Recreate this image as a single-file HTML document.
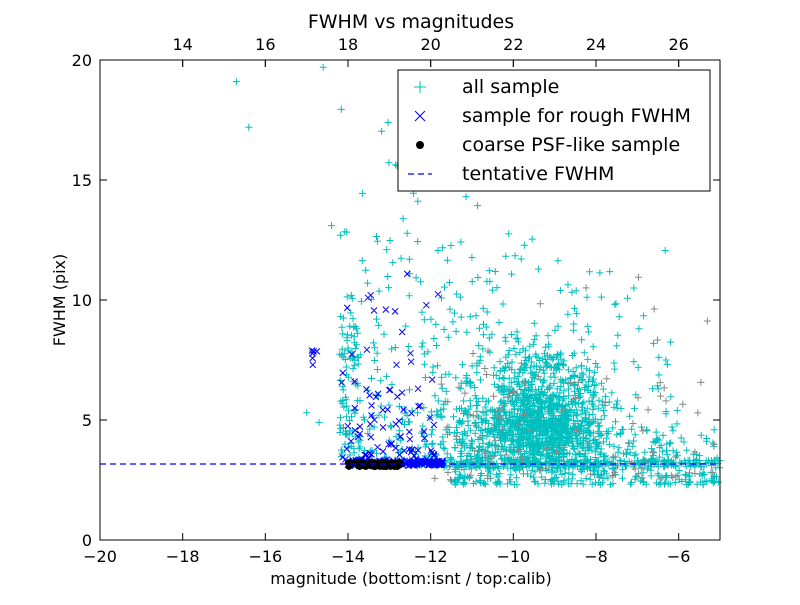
<!DOCTYPE html>
<html><head><meta charset="utf-8"><style>
body{margin:0;background:#fff;}
svg text{font-family:"DejaVu Sans","Liberation Sans",sans-serif;}
</style></head><body>
<svg id="s" width="800" height="600" xmlns="http://www.w3.org/2000/svg">
<rect width="800" height="600" fill="#fff"/>
<g id="pts"></g>
<line x1="100" y1="464" x2="720" y2="464" stroke="#0000ff" stroke-width="1.2" stroke-dasharray="6,4"/>
<rect x="100" y="60" width="620" height="480" fill="none" stroke="#000" stroke-width="1"/>
<g id="ticks" stroke="#000"></g>
<g font-size="16" fill="#000" id="lbl"></g>
<text x="411" y="28" font-size="19" text-anchor="middle">FWHM vs magnitudes</text>
<text x="411" y="584" font-size="16" text-anchor="middle">magnitude (bottom:isnt / top:calib)</text>
<text x="65" y="300" font-size="16" text-anchor="middle" transform="rotate(-90 65 300)">FWHM (pix)</text>
<rect x="398" y="70" width="312" height="121" fill="#fff" stroke="#000"/>
<path d="M414 87h12M420 81v12" stroke="#00bfbf" stroke-width="1"/>
<path d="M415 111l10 10M425 111l-10 10" stroke="#0000ff" stroke-width="1"/>
<circle cx="420" cy="145" r="4" fill="#000"/>
<line x1="408" y1="174" x2="432" y2="174" stroke="#0000ff" stroke-width="1.2" stroke-dasharray="6,4"/>
<g font-size="19"><text x="462" y="93">all sample</text><text x="462" y="122">sample for rough FWHM</text><text x="462" y="151">coarse PSF-like sample</text><text x="462" y="180">tentative FWHM</text></g>
</svg>
<script>
var X=function(m){return 100+(m+20)*620/15},Y=function(f){return 540-f*24};
var s=12345;function r(){s=(s*1103515245+12345)%2147483648;return s/2147483648;}
function g(){return (r()+r()+r()-1.5)/0.87;}
var t="",tl="";
for(var m=-20;m<=-6;m+=2){var x=X(m);t+='<line x1="'+x+'" y1="540" x2="'+x+'" y2="533"/><line x1="'+x+'" y1="60" x2="'+x+'" y2="67"/>';tl+='<text x="'+x+'" y="562" text-anchor="middle">\u2212'+(-m)+'</text>';}
for(var m=14;m<=26;m+=2){var x=X(m-32);t+='<line x1="'+x+'" y1="60" x2="'+x+'" y2="67"/>';tl+='<text x="'+x+'" y="50" text-anchor="middle">'+m+'</text>';}
for(var f=0;f<=20;f+=5){var y=Y(f);t+='<line x1="100" y1="'+y+'" x2="107" y2="'+y+'"/><line x1="720" y1="'+y+'" x2="713" y2="'+y+'"/>';tl+='<text x="92" y="'+(y+6)+'" text-anchor="end">'+f+'</text>';}
document.getElementById('ticks').innerHTML=t;document.getElementById('lbl').innerHTML=tl;
var cy="",gr="",bl="",bk="";
function plus(m,f){var x=X(m),y=Y(f);if(x<100||x>720||y<60||y>540)return"";return"M"+(x-3.5).toFixed(1)+" "+y.toFixed(1)+"h7M"+x.toFixed(1)+" "+(y-3.5).toFixed(1)+"v7";}
function cross(m,f){var x=X(m),y=Y(f);return"M"+(x-3).toFixed(1)+" "+(y-3).toFixed(1)+"l6 6m0 -6l-6 6";}
var i,m,f;
for(i=0;i<1100;i++){m=-9.3+g()*1.3;f=4.6+g()*1.3+(r()<0.3?r()*3:0);if(f<2.3)f=2.3+r()*0.8;cy+=plus(m,f);}
for(i=0;i<350;i++){m=-11.5+r()*6.5;f=2.3+r()*3*r();cy+=plus(m,f);}
for(i=0;i<300;i++){m=-14+r()*9;f=3.05+r()*0.3;cy+=plus(m,f);}
for(i=0;i<350;i++){m=-12+r()*6;f=3+r()*r()*11;cy+=plus(m,f);}
for(i=0;i<250;i++){m=-14.2+r()*3.5;f=3.2+r()*r()*17;cy+=plus(m,f);}
for(i=0;i<70;i++){m=-14.2+r()*0.5;f=3.5+r()*6;cy+=plus(m,f);}
cy+=plus(-16.7,19.1)+plus(-16.4,17.2)+plus(-14.4,13.1)+plus(-14.6,19.7)+plus(-15,5.3)+plus(-14.7,4.9);
for(i=0;i<100;i++){m=-12+r()*7;f=2.5+r()*r()*9;gr+=plus(m,f);}
for(i=0;i<90;i++){m=-14.2+r()*2.4;f=3.3+r()*r()*8.5;bl+=cross(m,f);}
for(i=0;i<6;i++)bl+=cross(-14.9+r()*0.2,7.3+r()*0.6);
for(i=0;i<200;i++){m=-14+r()*2.3;f=3.1+r()*0.2;bl+=cross(m,f);}
for(i=0;i<90;i++){var x=X(-14+r()*1.3),y=Y(3.05+r()*0.2);bk+='<circle cx="'+x.toFixed(1)+'" cy="'+y.toFixed(1)+'" r="3.3"/>';}
document.getElementById('pts').innerHTML='<path d="'+cy+'" stroke="#00bfbf" stroke-width="1" fill="none"/><path d="'+gr+'" stroke="#888" stroke-width="1" fill="none"/><path d="'+bl+'" stroke="#0000ff" stroke-width="1" fill="none"/><g fill="#000">'+bk+'</g>';
</script>
</body></html>
